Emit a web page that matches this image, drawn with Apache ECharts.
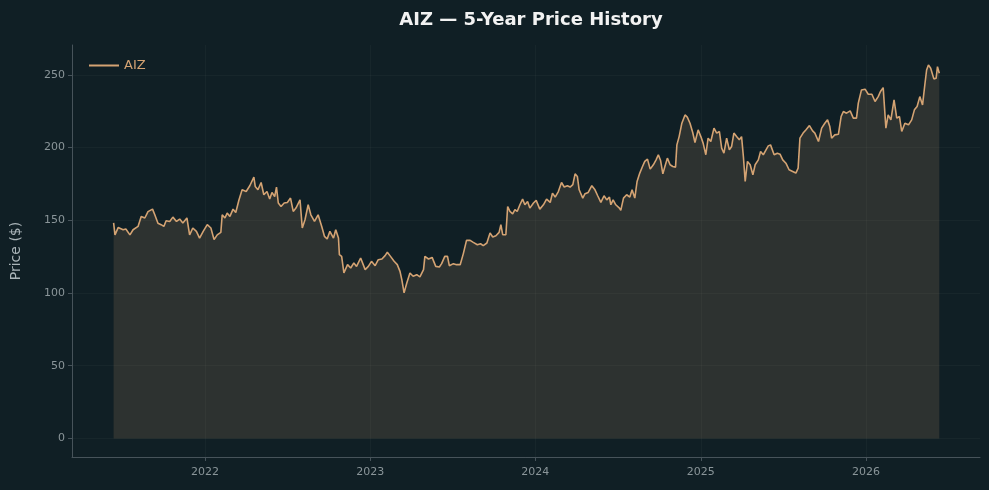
<!DOCTYPE html>
<html>
<head>
<meta charset="utf-8">
<script src="https://cdn.jsdelivr.net/npm/echarts@6/dist/echarts.min.js"></script>
<style>
html,body{margin:0;padding:0;background:#101f25;}
#chart{width:989px;height:490px;}
</style>
</head>
<body>
<div id="chart"></div>
<script>
// Day offsets from 2022-01-01 (UTC)
const dayOffsets = [-202,-199,-192,-181,-175,-166,-159,-148,-141,-133,-126,-116,-111,-104,-97,-91,-86,-78,-71,-63,-56,-49,-40,-34,-27,-19,-12,-4,5,13,20,27,35,38,44,49,55,62,68,75,82,91,99,108,111,117,124,130,137,143,148,154,158,
162,168,175,182,189,195,201,210,215,221,228,234,242,250,258,264,270,276,284,289,295,297,302,307,315,322,329,335,344,354,361,368,376,383,391,398,403,410,418,425,431,435,440,446,453,460,468,475,483,486,494,502,510,518,
523,530,536,540,549,556,564,571,578,586,593,602,609,615,623,630,636,643,650,654,658,665,669,674,680,685,690,696,702,707,713,718,726,732,740,748,755,763,768,774,781,788,794,801,807,813,818,823,827,835,840,847,855,862,868,
875,882,888,894,897,902,908,916,919,925,932,939,944,950,955,961,967,972,978,984,991,997,1002,1007,1012,1017,1022,1028,1034,1040,1043,1048,1054,1061,1066,1072,1078,1083,1090,1096,1101,1107,1112,1118,1125,1131,1137,1142,1147,1153,1159,1164,1169,1175,1181,1186,1190,1194,1199,1205,1211,1216,1223,1228,1234,1240,1245,
1250,1258,1265,1271,1277,1284,1291,1299,1306,1311,1315,1322,1328,1336,1343,1348,1356,1363,1370,1376,1381,1385,1392,1400,1406,1411,1418,1426,1433,1440,1444,1451,1459,1466,1474,1481,1488,1493,1499,1505,1510,1516,1523,1529,1535,1540,1547,1555,1562,1568,1574,1580,1586,1591,1595,1599,1604,1608,1611,1616,1619,1623];
const prices = [148.3,140,145,143.5,144,140,143.5,145.8,152.7,151.6,156,157.7,153.8,148,147,145.8,149.7,149.2,152.2,149.2,150.9,148.1,151.6,140,144.7,142.4,137.8,142.4,147,144.7,136.7,140,141.7,153.8,151.6,155,152.7,157.7,155.4,164,171,169.8,173.8,179.7,173.3,171,176,167.6,169.8,164.6,169.2,166.4,172.9,
161.9,159.5,161.9,162.3,165.3,156.1,158.4,164.1,144.7,150.4,160.7,153.8,149.2,153.8,145.8,139,137.2,142.4,137.8,143.5,137.8,126.4,125.2,113.8,119.5,117.2,120.7,118.3,124.1,116.1,118.3,121.8,118.8,122.9,123.4,125.7,128,125.2,121.8,119.5,114.9,109.2,100.1,106.9,113.8,111.5,112.6,111.1,116.1,125.2,123.4,124.5,118.3,117.9,
120.2,125.2,125.2,118.8,120.2,119.5,119.5,127.1,136.2,136.2,134.8,133.2,133.9,132.6,134.4,141.3,138.5,139.4,141.7,147,140.1,140.1,159.5,156.1,154.5,157.3,156.1,160.7,164.6,160.7,163,158.4,161.9,163.7,157.7,160.7,164.6,162.3,168.7,166,169.8,176,172.9,173.8,172.9,174.5,182,180.2,171,165.3,168.3,169.2,173.8,171,166.9,
162.3,166.9,164.1,166,160.7,164.1,160.7,158.4,156.8,165.3,167.6,166,171,165.3,176.7,182.5,187,190.5,192.1,185.2,188.2,191.6,195.1,191.1,182,187.5,192.8,188.2,187,186.6,201.9,207.6,216.8,222.5,221,216.8,210.4,203.5,212.2,207.6,203.1,195.1,206.5,204.2,213.4,210,211.1,199.7,196.2,206.5,198.5,200.8,210,207.6,205.4,207.6,193.9,176.7,190.5,188.2,181.3,188.2,191.6,197.3,195.1,198.5,201.2,
201.9,195.1,196.2,195.5,191.6,189.3,184.8,183.6,182.5,185.9,206.5,210,212.2,215.2,211.5,210,204.2,213.4,216.8,219.1,214.5,206.5,208.8,209.2,221.4,224.8,223.7,225.3,220.3,220.3,230.6,239.7,240.2,236.7,236.7,231.7,235.1,238.6,241.3,213.4,222.5,219.1,232.8,220.3,221.4,211.1,216.8,215.7,219.1,226,228.3,235.1,229.4,243.1,253.4,256.9,254.6,254.6,247.3,247.7,255.7,251.2];
const yearTicks = [2022, 2023, 2024, 2025, 2026];
const priceTicks = [0, 50, 100, 150, 200, 250];

const DAY = 86400000;
const base = Date.UTC(2022, 0, 1);
const seriesData = dayOffsets.map((d, i) => [base + d * DAY, prices[i]]);
const yearVals = yearTicks.map(y => Date.UTC(y, 0, 1));

const chart = echarts.init(document.getElementById('chart'), null, {renderer: 'canvas'});
const labelColor = '#8a9599';
const axisColor = '#47535a';
const gridColor = 'rgba(255,255,255,0.03)';
chart.setOption({
  backgroundColor: '#101f25',
  animation: false,
  title: {
    text: 'AIZ — 5-Year Price History',
    left: 526, top: 6, textAlign: 'center',
    textStyle: {color: '#f2f2f2', fontSize: 18, fontWeight: 'bold', fontFamily: 'DejaVu Sans'}
  },
  legend: {
    left: 84, top: 54,
    itemWidth: 30, itemHeight: 2, itemGap: 10,
    icon: 'rect',
    data: [{name: 'AIZ', itemStyle: {color: '#d4a373'}}],
    textStyle: {color: '#d4a373', fontSize: 13, fontFamily: 'DejaVu Sans'}
  },
  grid: {left: 72, right: 9, top: 45, bottom: 33, containLabel: false},
  xAxis: {
    type: 'value',
    min: base - 294 * DAY,
    max: base + 1713 * DAY,
    axisLine: {show: true, onZero: false, lineStyle: {color: axisColor, width: 1}},
    axisTick: {show: true, length: 4, lineStyle: {color: axisColor}, customValues: yearVals},
    axisLabel: {color: labelColor, fontSize: 11, fontFamily: 'DejaVu Sans', margin: 10,
      customValues: yearVals, formatter: v => String(new Date(v).getUTCFullYear())},
    splitLine: {show: true, lineStyle: {color: gridColor, width: 1}}
  },
  yAxis: {
    type: 'value',
    min: -12.8, max: 270.6,
    name: 'Price ($)',
    nameLocation: 'middle',
    nameGap: 49,
    nameTextStyle: {color: '#aab4b8', fontSize: 14, fontFamily: 'DejaVu Sans'},
    axisLine: {show: true, onZero: false, lineStyle: {color: axisColor, width: 1}},
    axisTick: {show: true, length: 4, lineStyle: {color: axisColor}, customValues: priceTicks},
    axisLabel: {color: labelColor, fontSize: 11, fontFamily: 'DejaVu Sans', margin: 7, customValues: priceTicks},
    splitLine: {show: true, lineStyle: {color: gridColor, width: 1}}
  },
  series: [{
    name: 'AIZ',
    type: 'line',
    data: seriesData,
    showSymbol: false,
    symbol: 'none',
    lineStyle: {color: '#d4a373', width: 1.6},
    itemStyle: {color: '#d4a373'},
    areaStyle: {color: '#d4a373', opacity: 0.15, origin: 0},
    z: 3
  }]
});
</script>
</body>
</html>
